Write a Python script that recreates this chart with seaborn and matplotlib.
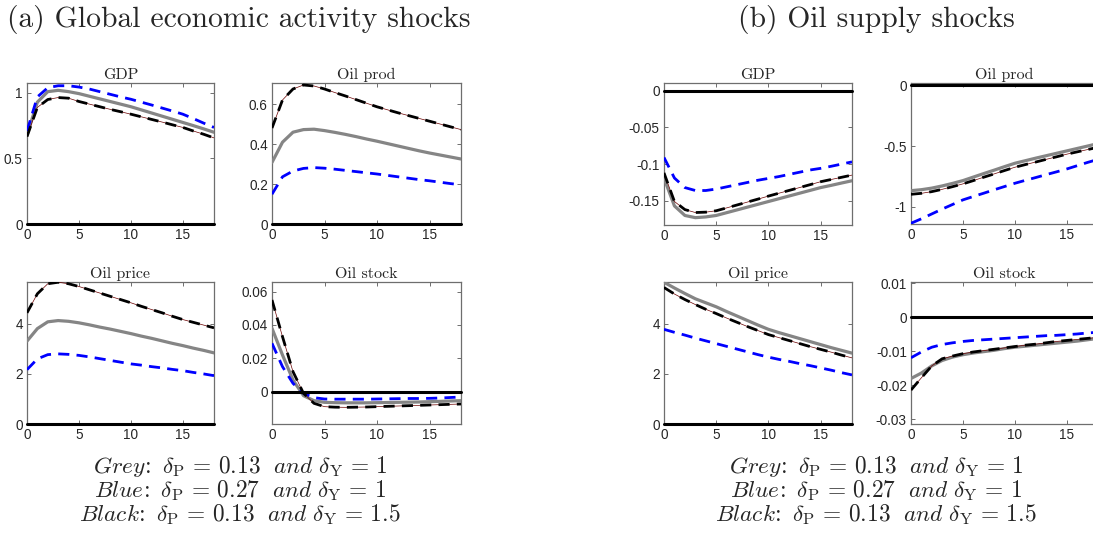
import numpy as np
import pandas as pd
import matplotlib
matplotlib.use("Agg")
import matplotlib.pyplot as plt
import seaborn as sns

# ---------------- data ----------------
horizon = list(range(19))
xticks = [0, 5, 10, 15]

# (a) Global economic activity shocks
a_gdp_grey = [0.68, 0.93, 1.01, 1.02, 1.01, 0.995, 0.975, 0.955, 0.935, 0.915, 0.895, 0.871, 0.847, 0.823, 0.799, 0.775, 0.751, 0.726, 0.70]
a_gdp_blue = [0.71, 0.97, 1.04, 1.055, 1.055, 1.045, 1.03, 1.01, 0.99, 0.97, 0.952, 0.93, 0.908, 0.885, 0.862, 0.838, 0.805, 0.77, 0.737]
a_gdp_black = [0.667, 0.89, 0.95, 0.965, 0.96, 0.935, 0.915, 0.895, 0.875, 0.857, 0.838, 0.818, 0.798, 0.778, 0.757, 0.737, 0.71, 0.685, 0.657]

a_prod_grey = [0.308, 0.409, 0.459, 0.472, 0.474, 0.467, 0.458, 0.448, 0.437, 0.425, 0.414, 0.402, 0.39, 0.378, 0.366, 0.355, 0.345, 0.335, 0.325]
a_prod_blue = [0.149, 0.236, 0.265, 0.278, 0.282, 0.279, 0.274, 0.268, 0.262, 0.256, 0.25, 0.243, 0.236, 0.229, 0.222, 0.216, 0.209, 0.202, 0.196]
a_prod_black = [0.48, 0.62, 0.675, 0.695, 0.69, 0.675, 0.657, 0.64, 0.622, 0.604, 0.586, 0.571, 0.556, 0.542, 0.528, 0.514, 0.5, 0.486, 0.472]

a_price_grey = [3.31, 3.81, 4.08, 4.13, 4.1, 4.04, 3.96, 3.87, 3.79, 3.7, 3.61, 3.51, 3.42, 3.32, 3.22, 3.13, 3.03, 2.94, 2.84]
a_price_blue = [2.17, 2.6, 2.77, 2.8, 2.78, 2.74, 2.68, 2.61, 2.54, 2.47, 2.4, 2.35, 2.29, 2.24, 2.18, 2.13, 2.06, 2.0, 1.93]
a_price_black = [4.44, 5.2, 5.6, 5.66, 5.6, 5.49, 5.36, 5.23, 5.1, 4.97, 4.84, 4.7, 4.57, 4.44, 4.3, 4.17, 4.06, 3.95, 3.84]

a_stock_grey = [0.038, 0.022, 0.007, -0.0024, -0.0054, -0.0064, -0.0066, -0.0067, -0.0067, -0.0067, -0.0066, -0.0065, -0.0064, -0.0063, -0.0062, -0.006, -0.0058, -0.0056, -0.0054]
a_stock_blue = [0.029, 0.015, 0.005, -0.001, -0.0036, -0.0044, -0.0045, -0.0045, -0.0045, -0.0045, -0.0044, -0.0043, -0.0042, -0.0041, -0.0041, -0.004, -0.0038, -0.0035, -0.0032]
a_stock_black = [0.055, 0.033, 0.012, -0.001, -0.007, -0.009, -0.0093, -0.0094, -0.0093, -0.0092, -0.009, -0.0088, -0.0086, -0.0084, -0.0082, -0.008, -0.0078, -0.0076, -0.0074]

# (b) Oil supply shocks
b_gdp_grey = [-0.119, -0.157, -0.170, -0.173, -0.172, -0.170, -0.1662, -0.1624, -0.1586, -0.1548, -0.151, -0.1472, -0.1434, -0.1396, -0.1358, -0.132, -0.129, -0.1258, -0.1227]
b_gdp_blue = [-0.091, -0.119, -0.132, -0.136, -0.136, -0.134, -0.131, -0.128, -0.125, -0.122, -0.1195, -0.117, -0.114, -0.111, -0.108, -0.1058, -0.103, -0.100, -0.097]
b_gdp_black = [-0.112, -0.151, -0.162, -0.166, -0.1655, -0.1636, -0.1597, -0.1557, -0.1517, -0.1477, -0.1436, -0.1397, -0.1358, -0.1319, -0.128, -0.124, -0.121, -0.118, -0.115]

b_prod_grey = [-0.868, -0.86, -0.847, -0.829, -0.808, -0.785, -0.756, -0.727, -0.699, -0.67, -0.642, -0.621, -0.6, -0.58, -0.56, -0.54, -0.52, -0.50, -0.48]
b_prod_blue = [-1.137, -1.1, -1.06, -1.02, -0.982, -0.944, -0.916, -0.889, -0.861, -0.834, -0.807, -0.783, -0.76, -0.736, -0.713, -0.689, -0.662, -0.635, -0.61]
b_prod_black = [-0.898, -0.89, -0.876, -0.857, -0.835, -0.812, -0.785, -0.757, -0.73, -0.702, -0.675, -0.653, -0.632, -0.61, -0.589, -0.567, -0.548, -0.529, -0.51]

b_price_grey = [5.66, 5.43, 5.21, 5.0, 4.84, 4.68, 4.49, 4.31, 4.13, 3.95, 3.78, 3.65, 3.53, 3.41, 3.29, 3.17, 3.05, 2.94, 2.83]
b_price_blue = [3.78, 3.66, 3.55, 3.43, 3.32, 3.21, 3.1, 2.99, 2.88, 2.77, 2.67, 2.58, 2.5, 2.41, 2.33, 2.24, 2.15, 2.05, 1.96]
b_price_black = [5.45, 5.19, 4.97, 4.77, 4.58, 4.41, 4.23, 4.06, 3.89, 3.73, 3.57, 3.45, 3.33, 3.21, 3.09, 2.98, 2.87, 2.75, 2.64]

b_stock_grey = [-0.018, -0.0164, -0.0143, -0.0127, -0.0117, -0.011, -0.0105, -0.0101, -0.0097, -0.0092, -0.0088, -0.0085, -0.0082, -0.0079, -0.0076, -0.0073, -0.007, -0.0066, -0.0062]
b_stock_blue = [-0.0119, -0.0102, -0.0088, -0.008, -0.0075, -0.0071, -0.0068, -0.0066, -0.0064, -0.0062, -0.006, -0.0058, -0.0056, -0.0054, -0.0053, -0.0051, -0.0049, -0.0046, -0.0044]
b_stock_black = [-0.0214, -0.0178, -0.0143, -0.0122, -0.0114, -0.0107, -0.0102, -0.0098, -0.0094, -0.009, -0.0086, -0.0082, -0.0079, -0.0075, -0.0071, -0.0068, -0.0065, -0.0062, -0.0059]

panel_titles = ["(a) Global economic activity shocks", "(b) Oil supply shocks"]
subplot_titles = ["GDP", "Oil prod", "Oil price", "Oil stock"]

a_yticks = [[0, 0.5, 1], [0, 0.2, 0.4, 0.6], [0, 2, 4], [0, 0.02, 0.04, 0.06]]
a_yticklabels = [["0", "0.5", "1"], ["0", "0.2", "0.4", "0.6"], ["0", "2", "4"], ["0", "0.02", "0.04", "0.06"]]
b_yticks = [[-0.15, -0.1, -0.05, 0], [-1, -0.5, 0], [0, 2, 4], [-0.03, -0.02, -0.01, 0, 0.01]]
b_yticklabels = [["-0.15", "-0.1", "-0.05", "0"], ["-1", "-0.5", "0"], ["0", "2", "4"], ["-0.03", "-0.02", "-0.01", "0", "0.01"]]

caption_lines = [
    r"$\mathit{Grey\!:}\ \delta_{\mathrm{P}}\,=\,0.13\ \ \mathit{and}\ \delta_{\mathrm{Y}}\,=\,1$",
    r"$\mathit{Blue\!:}\ \delta_{\mathrm{P}}\,=\,0.27\ \ \mathit{and}\ \delta_{\mathrm{Y}}\,=\,1$",
    r"$\mathit{Black\!:}\ \delta_{\mathrm{P}}\,=\,0.13\ \ \mathit{and}\ \delta_{\mathrm{Y}}\,=\,1.5$",
]

# ---------------- style ----------------
sns.set_style("ticks")
plt.rcParams["font.family"] = ["Liberation Sans", "DejaVu Sans"]
plt.rcParams["mathtext.fontset"] = "cm"
plt.rcParams["axes.unicode_minus"] = False

GREY = "#858585"
BLUE = "#0000ff"
BLACK = "#000000"
DARKRED = "#6a0000"
SPINE = "#6e6e6e"
TICKC = "#262626"

fig = plt.figure(figsize=(10.93, 5.39), dpi=100)
W, H = 1093.0, 539.0

def rect(x0, x1, ytop, ybot):
    return [x0 / W, 1 - ybot / H, (x1 - x0) / W, (ybot - ytop) / H]

a_rects = [rect(27, 214, 83, 224), rect(272, 461, 83, 224),
           rect(27, 214, 282, 424), rect(272, 461, 282, 424)]
b_rects = [rect(664, 852, 83, 225), rect(911, 1098, 83, 224),
           rect(664, 852, 282, 424), rect(911, 1098, 282, 424)]

a_ylims = [(0, 1.076), (0, 0.705), (0, 5.67), (-0.0194, 0.0658)]
b_ylims = [(-0.183, 0.0105), (-1.143, 0.02), (0, 5.67), (-0.0314, 0.0104)]

a_series = [(a_gdp_grey, a_gdp_blue, a_gdp_black),
            (a_prod_grey, a_prod_blue, a_prod_black),
            (a_price_grey, a_price_blue, a_price_black),
            (a_stock_grey, a_stock_blue, a_stock_black)]
b_series = [(b_gdp_grey, b_gdp_blue, b_gdp_black),
            (b_prod_grey, b_prod_blue, b_prod_black),
            (b_price_grey, b_price_blue, b_price_black),
            (b_stock_grey, b_stock_blue, b_stock_black)]

def draw(ax, series, ylim, yt, ytl, title):
    grey, blue, black = series
    df = pd.DataFrame({"h": horizon, "grey": grey, "blue": blue, "black": black})
    ax.axhline(0, color="black", lw=2.2, zorder=6, clip_on=False)
    sns.lineplot(data=df, x="h", y="grey", ax=ax, color=GREY, lw=2.3, zorder=3)
    sns.lineplot(data=df, x="h", y="blue", ax=ax, color=BLUE, lw=2.0, zorder=4,
                 linestyle=(0, (4, 2.6)))
    sns.lineplot(data=df, x="h", y="black", ax=ax, color=DARKRED, lw=0.5, zorder=4)
    sns.lineplot(data=df, x="h", y="black", ax=ax, color=BLACK, lw=2.0, zorder=5,
                 linestyle=(0, (4, 2.6)))
    ax.set_xlim(0, 18)
    ax.set_ylim(*ylim)
    ax.set_xticks(xticks)
    ax.set_xticklabels([str(t) for t in xticks])
    ax.set_yticks(yt)
    ax.set_yticklabels(ytl)
    ax.set_xlabel("")
    ax.set_ylabel("")
    ax.set_title(title, family="cmr10", fontsize=11.5, pad=3)
    for s in ax.spines.values():
        s.set_visible(True)
        s.set_color(SPINE)
        s.set_linewidth(0.9)
    ax.tick_params(direction="in", length=3, width=0.7, color=SPINE,
                   top=True, right=True, labelsize=9.8, labelcolor=TICKC, pad=3)

for i in range(4):
    ax = fig.add_axes(a_rects[i])
    draw(ax, a_series[i], a_ylims[i], a_yticks[i], a_yticklabels[i], subplot_titles[i])
for i in range(4):
    ax = fig.add_axes(b_rects[i])
    draw(ax, b_series[i], b_ylims[i], b_yticks[i], b_yticklabels[i], subplot_titles[i])

fig.text(239 / W, 1 - 20 / H, panel_titles[0], family="cmr10", fontsize=21.3,
         ha="center", va="center")
fig.text(876 / W, 1 - 20 / H, panel_titles[1], family="cmr10", fontsize=21.3,
         ha="center", va="center")

for k, line in enumerate(caption_lines):
    y = 1 - (466.5 + 23.8 * k) / H
    fig.text(240 / W, y, line, fontsize=16.8, ha="center", va="center")
    fig.text(876 / W, y, line, fontsize=16.8, ha="center", va="center")

fig.savefig("out.png", dpi=100)
